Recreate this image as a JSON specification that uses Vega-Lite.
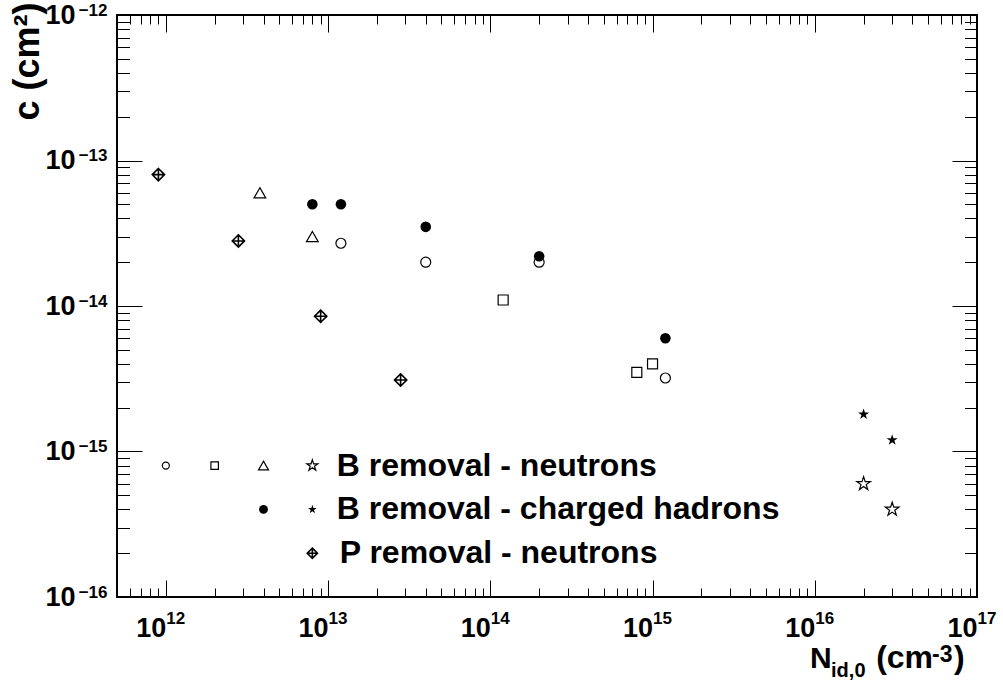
{
  "$schema": "https://vega.github.io/schema/vega-lite/v6.json",
  "width": 860,
  "height": 582,
  "autosize": "none",
  "padding": {"left": 117, "top": 15, "right": 26, "bottom": 93},
  "background": "white",
  "config": {"view": {"stroke": "black", "strokeWidth": 2}, "font": "Liberation Sans"},
  "datasets": {
    "points": [
      {"marker": "open circle", "role": "data", "x": 1.2e13, "y": 2.7e-14},
      {"marker": "open circle", "role": "data", "x": 4e13, "y": 2.0e-14},
      {"marker": "open circle", "role": "data", "x": 2e14, "y": 2.0e-14},
      {"marker": "open circle", "role": "data", "x": 1.2e15, "y": 3.2e-15},
      {"marker": "open circle", "role": "legend", "x": 1e12, "y": 8e-16},
      {"marker": "filled circle", "role": "data", "x": 8e12, "y": 5e-14},
      {"marker": "filled circle", "role": "data", "x": 1.2e13, "y": 5e-14},
      {"marker": "filled circle", "role": "data", "x": 4e13, "y": 3.5e-14},
      {"marker": "filled circle", "role": "data", "x": 2e14, "y": 2.2e-14},
      {"marker": "filled circle", "role": "data", "x": 1.2e15, "y": 6e-15},
      {"marker": "filled circle", "role": "legend", "x": 4e12, "y": 4e-16},
      {"marker": "open square", "role": "data", "x": 1.2e14, "y": 1.1e-14},
      {"marker": "open square", "role": "data", "x": 8e14, "y": 3.5e-15},
      {"marker": "open square", "role": "data", "x": 1e15, "y": 4e-15},
      {"marker": "open square", "role": "legend", "x": 2e12, "y": 8e-16},
      {"marker": "open triangle", "role": "data", "x": 3.8e12, "y": 6e-14},
      {"marker": "open triangle", "role": "data", "x": 8e12, "y": 3e-14},
      {"marker": "open triangle", "role": "legend", "x": 4e12, "y": 8e-16},
      {"marker": "open star", "role": "data", "x": 2e16, "y": 6e-16},
      {"marker": "open star", "role": "data", "x": 3e16, "y": 4e-16},
      {"marker": "open star", "role": "legend", "x": 8e12, "y": 8e-16},
      {"marker": "filled star", "role": "data", "x": 2e16, "y": 1.8e-15},
      {"marker": "filled star", "role": "data", "x": 3e16, "y": 1.2e-15},
      {"marker": "filled star", "role": "legend", "x": 8e12, "y": 4e-16},
      {"marker": "diamond cross", "role": "data", "x": 9e11, "y": 8e-14},
      {"marker": "diamond cross", "role": "data", "x": 2.8e12, "y": 2.8e-14},
      {"marker": "diamond cross", "role": "data", "x": 9e12, "y": 8.5e-15},
      {"marker": "diamond cross", "role": "data", "x": 2.8e13, "y": 3.1e-15},
      {"marker": "diamond cross", "role": "legend", "x": 8e12, "y": 2e-16}
    ],
    "labels": [
      {"x": 1.13e13, "y": 8e-16, "text": "B removal - neutrons"},
      {"x": 1.13e13, "y": 4e-16, "text": "B removal - charged hadrons"},
      {"x": 1.18e13, "y": 2e-16, "text": "P removal - neutrons"}
    ]
  },
  "resolve": {"scale": {"size": "independent"}, "axis": {"x": "independent", "y": "independent"}},
  "layer": [
    {
      "data": {"name": "points"},
      "transform": [{"filter": "datum.marker === 'open circle'"}],
      "mark": {"type": "point", "shape": "circle", "filled": false, "stroke": "black", "strokeWidth": 1.2, "opacity": 1},
      "encoding": {
        "x": {"field": "x", "type": "quantitative", "scale": {"type": "log", "domain": [5e11, 1e17], "nice": false},
          "axis": {"orient": "bottom", "values": [1e12, 1e13, 1e14, 1e15, 1e16, 1e17], "ticks": false, "domain": false, "grid": false,
            "labelExpr": "'10'", "labelAlign": "right", "labelDx": 3, "labelBaseline": "alphabetic", "labelPadding": 39,
            "labelFont": "Liberation Sans", "labelFontWeight": "bold", "labelFontSize": 27, "labelColor": "black",
            "labelFlush": false, "labelOverlap": false, "labelBound": false, "title": null}},
        "y": {"field": "y", "type": "quantitative", "scale": {"type": "log", "domain": [1e-16, 1e-12], "nice": false},
          "axis": {"orient": "left", "values": [1e-16, 1e-15, 1e-14, 1e-13, 1e-12], "ticks": false, "domain": false, "grid": false,
            "labelExpr": "'10'", "labelAlign": "right", "labelBaseline": "middle", "labelPadding": 42,
            "labelFont": "Liberation Sans", "labelFontWeight": "bold", "labelFontSize": 27, "labelColor": "black",
            "labelFlush": false, "labelOverlap": false, "labelBound": false,
            "title": "c (cm²)", "titleFont": "Liberation Sans", "titleFontWeight": "bold", "titleFontSize": 36, "titleColor": "black",
            "titleAngle": 270, "titleAlign": "right", "titleBaseline": "alphabetic", "titleX": -79, "titleY": -13}},
        "size": {"field": "role", "type": "nominal", "scale": {"type": "ordinal", "domain": ["data", "legend"], "range": [100, 50]}, "legend": null}
      }
    },
    {
      "data": {"name": "points"},
      "transform": [{"filter": "datum.marker === 'filled circle'"}],
      "mark": {"type": "point", "shape": "circle", "filled": true, "color": "black", "opacity": 1},
      "encoding": {
        "x": {"field": "x", "type": "quantitative", "scale": {"type": "log", "domain": [5e11, 1e17], "nice": false},
          "axis": {"orient": "bottom", "values": [1e12, 1e13, 1e14, 1e15, 1e16, 1e17], "ticks": false, "domain": false, "grid": false,
            "labelExpr": "'' + round(log(datum.value)/LN10)", "labelAlign": "left", "labelDx": 5, "labelBaseline": "alphabetic", "labelPadding": 26,
            "labelFont": "Liberation Sans", "labelFontWeight": "bold", "labelFontSize": 17, "labelColor": "black",
            "labelFlush": false, "labelOverlap": false, "labelBound": false, "title": null}},
        "y": {"field": "y", "type": "quantitative", "scale": {"type": "log", "domain": [1e-16, 1e-12], "nice": false},
          "axis": {"orient": "left", "values": [1e-16, 1e-15, 1e-14, 1e-13, 1e-12], "ticks": false, "domain": false, "grid": false,
            "labelExpr": "'−' + abs(round(log(datum.value)/LN10))", "labelAlign": "right", "labelBaseline": "alphabetic", "labelDy": -1, "labelPadding": 10,
            "labelFont": "Liberation Sans", "labelFontWeight": "bold", "labelFontSize": 17, "labelColor": "black",
            "labelFlush": false, "labelOverlap": false, "labelBound": false, "title": null}},
        "size": {"field": "role", "type": "nominal", "scale": {"type": "ordinal", "domain": ["data", "legend"], "range": [112, 78]}, "legend": null}
      }
    },
    {
      "data": {"name": "points"},
      "transform": [{"filter": "datum.marker === 'open square'"}],
      "mark": {"type": "point", "shape": "square", "filled": false, "stroke": "black", "strokeWidth": 1.2, "opacity": 1},
      "encoding": {
        "x": {"field": "x", "type": "quantitative", "scale": {"type": "log", "domain": [5e11, 1e17], "nice": false},
          "axis": {"orient": "bottom", "values": [1e12, 1e13, 1e14, 1e15, 1e16, 1e17], "labels": false, "domain": false, "grid": false,
            "ticks": true, "tickSize": -17, "tickColor": "black", "tickWidth": 1, "title": null}},
        "y": {"field": "y", "type": "quantitative", "scale": {"type": "log", "domain": [1e-16, 1e-12], "nice": false},
          "axis": {"orient": "left", "values": [1e-16, 1e-15, 1e-14, 1e-13, 1e-12], "labels": false, "domain": false, "grid": false,
            "ticks": true, "tickSize": -25, "tickColor": "black", "tickWidth": 1, "title": null}},
        "size": {"field": "role", "type": "nominal", "scale": {"type": "ordinal", "domain": ["data", "legend"], "range": [100, 56]}, "legend": null}
      }
    },
    {
      "data": {"name": "points"},
      "transform": [{"filter": "datum.marker === 'open triangle'"}],
      "mark": {"type": "point", "shape": "triangle-up", "filled": false, "stroke": "black", "strokeWidth": 1.2, "opacity": 1},
      "encoding": {
        "x": {"field": "x", "type": "quantitative", "scale": {"type": "log", "domain": [5e11, 1e17], "nice": false},
          "axis": {"orient": "bottom", "values": [6e11, 7e11, 8e11, 9e11, 2e12, 3e12, 4e12, 5e12, 6e12, 7e12, 8e12, 9e12, 2e13, 3e13, 4e13, 5e13, 6e13, 7e13, 8e13, 9e13, 2e14, 3e14, 4e14, 5e14, 6e14, 7e14, 8e14, 9e14, 2e15, 3e15, 4e15, 5e15, 6e15, 7e15, 8e15, 9e15, 2e16, 3e16, 4e16, 5e16, 6e16, 7e16, 8e16, 9e16],
            "labels": false, "domain": false, "grid": false, "ticks": true, "tickSize": -9, "tickColor": "black", "tickWidth": 1, "title": null}},
        "y": {"field": "y", "type": "quantitative", "scale": {"type": "log", "domain": [1e-16, 1e-12], "nice": false},
          "axis": {"orient": "left", "values": [2e-16, 3e-16, 4e-16, 5e-16, 6e-16, 7e-16, 8e-16, 9e-16, 2e-15, 3e-15, 4e-15, 5e-15, 6e-15, 7e-15, 8e-15, 9e-15, 2e-14, 3e-14, 4e-14, 5e-14, 6e-14, 7e-14, 8e-14, 9e-14, 2e-13, 3e-13, 4e-13, 5e-13, 6e-13, 7e-13, 8e-13, 9e-13],
            "labels": false, "domain": false, "grid": false, "ticks": true, "tickSize": -12.5, "tickColor": "black", "tickWidth": 1, "title": null}},
        "size": {"field": "role", "type": "nominal", "scale": {"type": "ordinal", "domain": ["data", "legend"], "range": [137, 100]}, "legend": null}
      }
    },
    {
      "data": {"name": "points"},
      "transform": [{"filter": "datum.marker === 'open star'"}],
      "mark": {"type": "point", "shape": "M0,-1L0.2245,-0.309L0.9511,-0.309L0.3633,0.118L0.5878,0.809L0,0.382L-0.5878,0.809L-0.3633,0.118L-0.9511,-0.309L-0.2245,-0.309Z", "filled": false, "stroke": "black", "strokeWidth": 1.2, "opacity": 1},
      "encoding": {
        "x": {"field": "x", "type": "quantitative", "scale": {"type": "log", "domain": [5e11, 1e17], "nice": false},
          "axis": {"orient": "top", "values": [1e12, 1e13, 1e14, 1e15, 1e16, 1e17], "labels": false, "domain": false, "grid": false,
            "ticks": true, "tickSize": -17, "tickColor": "black", "tickWidth": 1, "title": null}},
        "y": {"field": "y", "type": "quantitative", "scale": {"type": "log", "domain": [1e-16, 1e-12], "nice": false},
          "axis": {"orient": "right", "values": [1e-16, 1e-15, 1e-14, 1e-13, 1e-12], "labels": false, "domain": false, "grid": false,
            "ticks": true, "tickSize": -25, "tickColor": "black", "tickWidth": 1, "title": null}},
        "size": {"field": "role", "type": "nominal", "scale": {"type": "ordinal", "domain": ["data", "legend"], "range": [205, 134]}, "legend": null}
      }
    },
    {
      "data": {"name": "points"},
      "transform": [{"filter": "datum.marker === 'filled star'"}],
      "mark": {"type": "point", "shape": "M0,-1L0.2245,-0.309L0.9511,-0.309L0.3633,0.118L0.5878,0.809L0,0.382L-0.5878,0.809L-0.3633,0.118L-0.9511,-0.309L-0.2245,-0.309Z", "filled": true, "color": "black", "opacity": 1},
      "encoding": {
        "x": {"field": "x", "type": "quantitative", "scale": {"type": "log", "domain": [5e11, 1e17], "nice": false},
          "axis": {"orient": "top", "values": [6e11, 7e11, 8e11, 9e11, 2e12, 3e12, 4e12, 5e12, 6e12, 7e12, 8e12, 9e12, 2e13, 3e13, 4e13, 5e13, 6e13, 7e13, 8e13, 9e13, 2e14, 3e14, 4e14, 5e14, 6e14, 7e14, 8e14, 9e14, 2e15, 3e15, 4e15, 5e15, 6e15, 7e15, 8e15, 9e15, 2e16, 3e16, 4e16, 5e16, 6e16, 7e16, 8e16, 9e16],
            "labels": false, "domain": false, "grid": false, "ticks": true, "tickSize": -9, "tickColor": "black", "tickWidth": 1, "title": null}},
        "y": {"field": "y", "type": "quantitative", "scale": {"type": "log", "domain": [1e-16, 1e-12], "nice": false},
          "axis": {"orient": "right", "values": [2e-16, 3e-16, 4e-16, 5e-16, 6e-16, 7e-16, 8e-16, 9e-16, 2e-15, 3e-15, 4e-15, 5e-15, 6e-15, 7e-15, 8e-15, 9e-15, 2e-14, 3e-14, 4e-14, 5e-14, 6e-14, 7e-14, 8e-14, 9e-14, 2e-13, 3e-13, 4e-13, 5e-13, 6e-13, 7e-13, 8e-13, 9e-13],
            "labels": false, "domain": false, "grid": false, "ticks": true, "tickSize": -12.5, "tickColor": "black", "tickWidth": 1, "title": null}},
        "size": {"field": "role", "type": "nominal", "scale": {"type": "ordinal", "domain": ["data", "legend"], "range": [135, 85]}, "legend": null}
      }
    },
    {
      "data": {"name": "points"},
      "transform": [{"filter": "datum.marker === 'diamond cross'"}],
      "mark": {"type": "point", "shape": "M0,-1L1,0L0,1L-1,0Z M0,-1L0,1 M-1,0L1,0", "filled": false, "stroke": "black", "strokeWidth": 1.6, "opacity": 1},
      "encoding": {
        "x": {"field": "x", "type": "quantitative", "scale": {"type": "log", "domain": [5e11, 1e17], "nice": false}, "axis": null},
        "y": {"field": "y", "type": "quantitative", "scale": {"type": "log", "domain": [1e-16, 1e-12], "nice": false}, "axis": null},
        "size": {"field": "role", "type": "nominal", "scale": {"type": "ordinal", "domain": ["data", "legend"], "range": [151, 105]}, "legend": null}
      }
    },
    {
      "data": {"name": "labels"},
      "mark": {"type": "text", "align": "left", "baseline": "middle", "font": "Liberation Sans", "fontWeight": "bold", "fontSize": 32, "color": "black"},
      "encoding": {
        "x": {"field": "x", "type": "quantitative", "scale": {"type": "log", "domain": [5e11, 1e17], "nice": false}, "axis": null},
        "y": {"field": "y", "type": "quantitative", "scale": {"type": "log", "domain": [1e-16, 1e-12], "nice": false}, "axis": null},
        "text": {"field": "text", "type": "nominal"}
      }
    },
    {
      "data": {"values": [{}]},
      "mark": {"type": "text", "text": "N", "align": "left", "baseline": "alphabetic", "font": "Liberation Sans", "fontWeight": "bold", "fontSize": 30, "color": "black"},
      "encoding": {
        "x": {"datum": 9.36e15, "type": "quantitative", "scale": {"type": "log", "domain": [5e11, 1e17], "nice": false}, "axis": null},
        "y": {"datum": 3.25e-17, "type": "quantitative", "scale": {"type": "log", "domain": [1e-16, 1e-12], "nice": false}, "axis": null}
      }
    },
    {
      "data": {"values": [{}]},
      "mark": {"type": "text", "text": "id,0", "align": "left", "baseline": "alphabetic", "font": "Liberation Sans", "fontWeight": "bold", "fontSize": 20, "color": "black"},
      "encoding": {
        "x": {"datum": 1.26e16, "type": "quantitative", "scale": {"type": "log", "domain": [5e11, 1e17], "nice": false}, "axis": null},
        "y": {"datum": 2.83e-17, "type": "quantitative", "scale": {"type": "log", "domain": [1e-16, 1e-12], "nice": false}, "axis": null}
      }
    },
    {
      "data": {"values": [{}]},
      "mark": {"type": "text", "text": "(cm", "align": "left", "baseline": "alphabetic", "font": "Liberation Sans", "fontWeight": "bold", "fontSize": 32, "color": "black"},
      "encoding": {
        "x": {"datum": 2.39e16, "type": "quantitative", "scale": {"type": "log", "domain": [5e11, 1e17], "nice": false}, "axis": null},
        "y": {"datum": 3.25e-17, "type": "quantitative", "scale": {"type": "log", "domain": [1e-16, 1e-12], "nice": false}, "axis": null}
      }
    },
    {
      "data": {"values": [{}]},
      "mark": {"type": "text", "text": "-3", "align": "left", "baseline": "alphabetic", "font": "Liberation Sans", "fontWeight": "bold", "fontSize": 23, "color": "black"},
      "encoding": {
        "x": {"datum": 5.28e16, "type": "quantitative", "scale": {"type": "log", "domain": [5e11, 1e17], "nice": false}, "axis": null},
        "y": {"datum": 3.6e-17, "type": "quantitative", "scale": {"type": "log", "domain": [1e-16, 1e-12], "nice": false}, "axis": null}
      }
    },
    {
      "data": {"values": [{}]},
      "mark": {"type": "text", "text": ")", "align": "left", "baseline": "alphabetic", "font": "Liberation Sans", "fontWeight": "bold", "fontSize": 32, "color": "black"},
      "encoding": {
        "x": {"datum": 7.21e16, "type": "quantitative", "scale": {"type": "log", "domain": [5e11, 1e17], "nice": false}, "axis": null},
        "y": {"datum": 3.25e-17, "type": "quantitative", "scale": {"type": "log", "domain": [1e-16, 1e-12], "nice": false}, "axis": null}
      }
    }
  ]
}
